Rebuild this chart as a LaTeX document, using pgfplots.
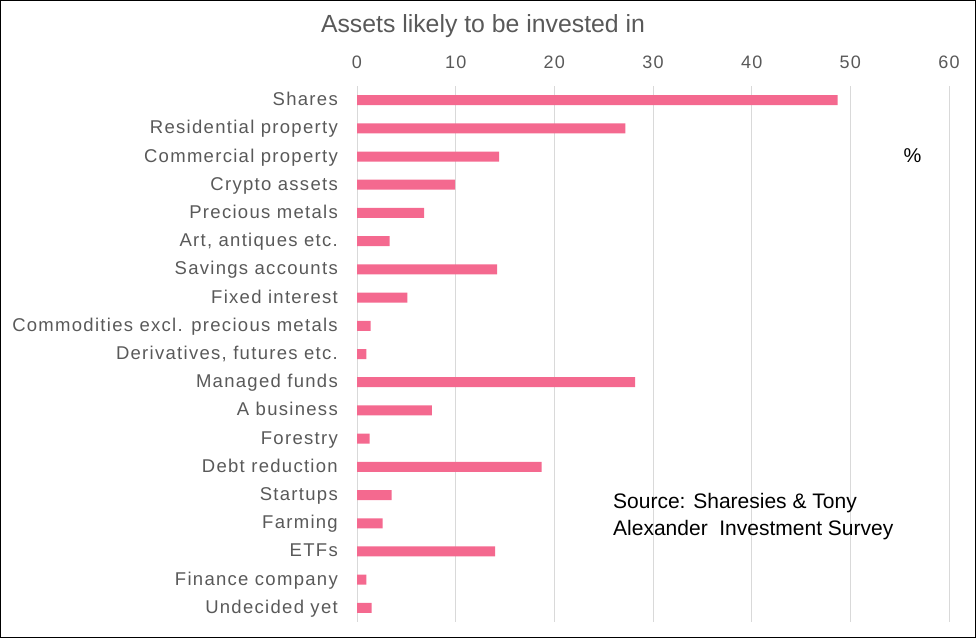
\documentclass[border=0pt]{standalone}
\usepackage{fontspec}
\setmainfont{Liberation Sans}
\newfontfamily\catfont[LetterSpace=7]{Liberation Sans}
\usepackage{pgfplots}
\pgfplotsset{compat=1.18}
\definecolor{barpink}{HTML}{F4698F}
\definecolor{txtgray}{HTML}{595959}
\definecolor{gridgray}{HTML}{D9D9D9}
\begin{document}
\begin{tikzpicture}
\draw[black, line width=1pt] (0.5pt,0.5pt) rectangle (975.5pt,637.5pt);
\begin{axis}[
  at={(357pt,16pt)}, anchor=south west,
  width=592pt, height=536pt, scale only axis,
  xbar, bar width=10pt,
  xmin=0, xmax=60, xtick={0,10,...,60},
  ymin=-0.5, ymax=18.5, y dir=reverse,
  ytick={0,...,18},
  yticklabels={Shares, Residential property, Commercial property, Crypto assets,
    Precious metals, {Art, antiques etc.}, Savings accounts, Fixed interest,
    Commodities excl. precious metals, {Derivatives, futures etc.}, Managed funds,
    A business, Forestry, Debt reduction, Startups, Farming, ETFs,
    Finance company, Undecided yet},
  xticklabel pos=upper,
  xmajorgrids, major grid style={gridgray, line width=1pt},
  axis line style={draw=none},
  major tick length=0pt, tick style={draw=none},
  /pgf/number format/assume math mode=true,
  xticklabel style={font=\catfont\fontsize{18}{20}\selectfont, text=txtgray, anchor=base, inner sep=0pt, yshift=18pt},
  yticklabel style={font=\catfont\fontsize{18.5}{20}\selectfont, text=txtgray, anchor=base east, inner sep=0pt, xshift=-19pt, yshift=-5.5pt},
  clip=false,
]
\addplot[fill=barpink, draw=none] coordinates {
  (48.7,0) (27.2,1) (14.4,2) (9.95,3) (6.8,4) (3.3,5) (14.2,6) (5.1,7)
  (1.37,8) (0.96,9) (28.2,10) (7.6,11) (1.27,12) (18.7,13) (3.5,14)
  (2.6,15) (14.0,16) (0.96,17) (1.47,18)
};
\end{axis}
\node[anchor=base, text=txtgray, font=\fontsize{24.8}{28}\selectfont, inner sep=0pt] at (483pt,605pt) {Assets likely to be invested in};
\node[anchor=base, font=\fontsize{20}{24}\selectfont, inner sep=0pt] at (912.5pt,475pt) {\%};
\node[anchor=base west, font=\fontsize{21}{24}\selectfont, inner sep=0pt] at (613pt,130pt) {Source: Sharesies \& Tony};
\node[anchor=base west, font=\fontsize{21}{24}\selectfont, inner sep=0pt] at (613pt,103pt) {Alexander\ \ Investment Survey};
\end{tikzpicture}
\end{document}
